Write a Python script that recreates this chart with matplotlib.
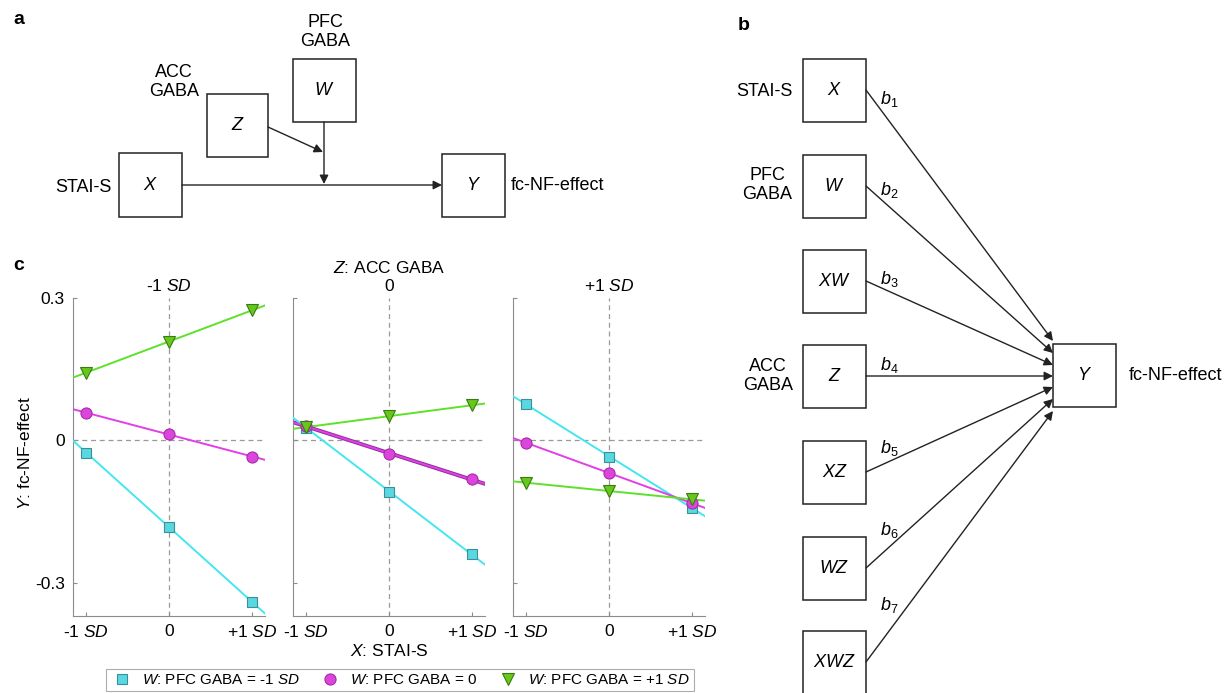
import numpy as np
import matplotlib
matplotlib.use('Agg')
import matplotlib.pyplot as plt
from matplotlib.patches import Rectangle

plt.rcParams['font.family'] = ['Liberation Sans', 'DejaVu Sans']
plt.rcParams['mathtext.fontset'] = 'custom'
plt.rcParams['mathtext.rm'] = 'Liberation Sans'
plt.rcParams['mathtext.it'] = 'Liberation Sans:italic'

# simple slopes: X level (-1 SD, 0, +1 SD), one list per Z panel
x_levels = [-1, 0, 1]
x_ticklabels = ['-1 $\\mathit{SD}$', '0', '+1 $\\mathit{SD}$']
z_titles = ['-1 $\\mathit{SD}$', '$\\mathit{Z}$: ACC GABA\n0', '+1 $\\mathit{SD}$']
w_low = [[-0.026, -0.182, -0.340], [0.027, -0.108, -0.240], [0.076, -0.034, -0.142]]
w_mid = [[0.058, 0.013, -0.034], [0.030, -0.028, -0.082], [-0.005, -0.069, -0.132]]
w_high = [[0.143, 0.208, 0.274], [0.028, 0.051, 0.074], [-0.089, -0.107, -0.124]]
w_labels = ['$\\mathit{W}$: PFC GABA = -1 $\\mathit{SD}$',
            '$\\mathit{W}$: PFC GABA = 0',
            '$\\mathit{W}$: PFC GABA = +1 $\\mathit{SD}$']

series_style = [
    dict(line='#44e6ef', face='#5ad8e0', edge='#3b8f98', marker='s', ms=6.5),
    dict(line='#e23fe6', face='#dc45dc', edge='#a52ca8', marker='o', ms=8),
    dict(line='#5ee12a', face='#66c81c', edge='#3b7a10', marker='v', ms=8),
]

W, H = 1228, 693
fig = plt.figure(figsize=(W / 100, H / 100), dpi=100)

# overlay for diagrams (pixel coords)
ov = fig.add_axes([0, 0, 1, 1])
ov.set_xlim(0, W)
ov.set_ylim(H, 0)
ov.axis('off')
ov.patch.set_visible(False)

FS = 13


def box(x0, y0, x1, y1, label):
    ov.add_patch(Rectangle((x0, y0), x1 - x0, y1 - y0, fill=False, ec='#222222', lw=1.1))
    ov.text((x0 + x1) / 2, (y0 + y1) / 2, label, ha='center', va='center', fontsize=FS)


def arrow(p0, p1):
    ov.annotate('', xy=p1, xytext=p0,
                arrowprops=dict(arrowstyle='-|>', lw=1.0, color='#222222',
                                mutation_scale=13, shrinkA=0, shrinkB=0))


# panel a
ov.text(13, 20, 'a', fontsize=14, fontweight='bold', va='center')
box(119, 153, 182, 217, '$\\mathit{X}$')
box(207, 94, 268, 157, '$\\mathit{Z}$')
box(293, 59, 356, 122, '$\\mathit{W}$')
box(442, 154, 505, 217, '$\\mathit{Y}$')
ov.text(112, 187, 'STAI-S', ha='right', va='center', fontsize=FS)
ov.text(174, 82, 'ACC\nGABA', ha='center', va='center', fontsize=FS, linespacing=1.2)
ov.text(325, 32, 'PFC\nGABA', ha='center', va='center', fontsize=FS, linespacing=1.2)
ov.text(511, 186, 'fc-NF-effect', ha='left', va='center', fontsize=FS)
arrow((182, 185), (442, 185))
arrow((324, 122), (324, 184))
arrow((268, 127), (323, 152))

# panel b
ov.text(738, 25, 'b', fontsize=14, fontweight='bold', va='center')
b_names = ['X', 'W', 'XW', 'Z', 'XZ', 'WZ', 'XWZ']
b_tops = [59, 155, 250, 345, 441, 537, 631]
b_tips = [341, 353, 365, 376, 387, 399, 411]
b_lab_y = [99, 190, 279, 365, 448, 530, 605]
for i, (nm, top) in enumerate(zip(b_names, b_tops)):
    box(803, top, 866, top + 63, '$\\mathit{%s}$' % nm)
    arrow((866, top + 31), (1053, b_tips[i]))
    ov.text(880, b_lab_y[i], '$\\mathit{b}_\\mathit{%d}$' % (i + 1), fontsize=FS, va='center')
box(1053, 344, 1116, 407, '$\\mathit{Y}$')
ov.text(793, 92, 'STAI-S', ha='right', va='center', fontsize=FS)
ov.text(767, 185, 'PFC\nGABA', ha='center', va='center', fontsize=FS, linespacing=1.2)
ov.text(768, 376, 'ACC\nGABA', ha='center', va='center', fontsize=FS, linespacing=1.2)
ov.text(1129, 376, 'fc-NF-effect', ha='left', va='center', fontsize=FS)

# panel c
ov.text(13, 266, 'c', fontsize=14, fontweight='bold', va='center')
lefts = [73, 293, 513]
top, bottom, width = 298, 616, 192
xlim = (-1.16, 1.16)
handles = []
for k, left in enumerate(lefts):
    ax = fig.add_axes([left / W, 1 - bottom / H, width / W, (bottom - top) / H])
    ax.set_xlim(*xlim)
    ax.set_ylim(-0.37, 0.3)
    for s in ['top', 'right']:
        ax.spines[s].set_visible(False)
    for s in ['left', 'bottom']:
        ax.spines[s].set_color('#8c8c8c')
        ax.spines[s].set_linewidth(0.8)
    ax.axhline(0, color='#9a9a9a', ls=(0, (4, 3)), lw=0.9, zorder=1)
    ax.axvline(0, color='#9a9a9a', ls=(0, (4, 3)), lw=0.9, zorder=1)
    ax.set_xticks(x_levels)
    ax.set_xticklabels(x_ticklabels, fontsize=12.5)
    ax.set_yticks([-0.3, 0, 0.3])
    if k == 0:
        ax.set_yticklabels(['-0.3', '0', '0.3'], fontsize=12.5)
    else:
        ax.set_yticklabels([])
    ax.tick_params(direction='in', length=3, color='#8c8c8c', pad=6)
    ax.set_title(z_titles[k], fontsize=12.5, pad=5, linespacing=1.25)
    xs = np.array(xlim)
    for j, data in enumerate([w_low[k], w_mid[k], w_high[k]]):
        st = series_style[j]
        fit = np.polyfit(x_levels, data, 1)
        if k == 1 and j == 1:
            ax.plot(xs, np.polyval(fit, xs), color='#8e2f9c', lw=2.8, zorder=2)
        ax.plot(xs, np.polyval(fit, xs), color=st['line'], lw=1.4, zorder=3)
        h, = ax.plot(x_levels, data, ls='none', marker=st['marker'], ms=st['ms'],
                     mfc=st['face'], mec=st['edge'], mew=0.8, zorder=4)
        if k == 0:
            handles.append(h)
    if k == 1:
        ax.set_xlabel('$\\mathit{X}$: STAI-S', fontsize=12.5, labelpad=2)

fig.text(25 / W, 1 - 453 / H, '$\\mathit{Y}$: fc-NF-effect', rotation=90,
         ha='center', va='center', fontsize=12.5)

leg = fig.legend(handles, w_labels, loc='center', ncol=3,
                 bbox_to_anchor=(400 / W, 1 - 680 / H), fontsize=11,
                 frameon=True, fancybox=False, edgecolor='#999999',
                 borderpad=0.25, handletextpad=0.6, columnspacing=1.2,
                 handlelength=1.5)
leg.get_frame().set_linewidth(0.8)

fig.savefig('out.png', dpi=100)
